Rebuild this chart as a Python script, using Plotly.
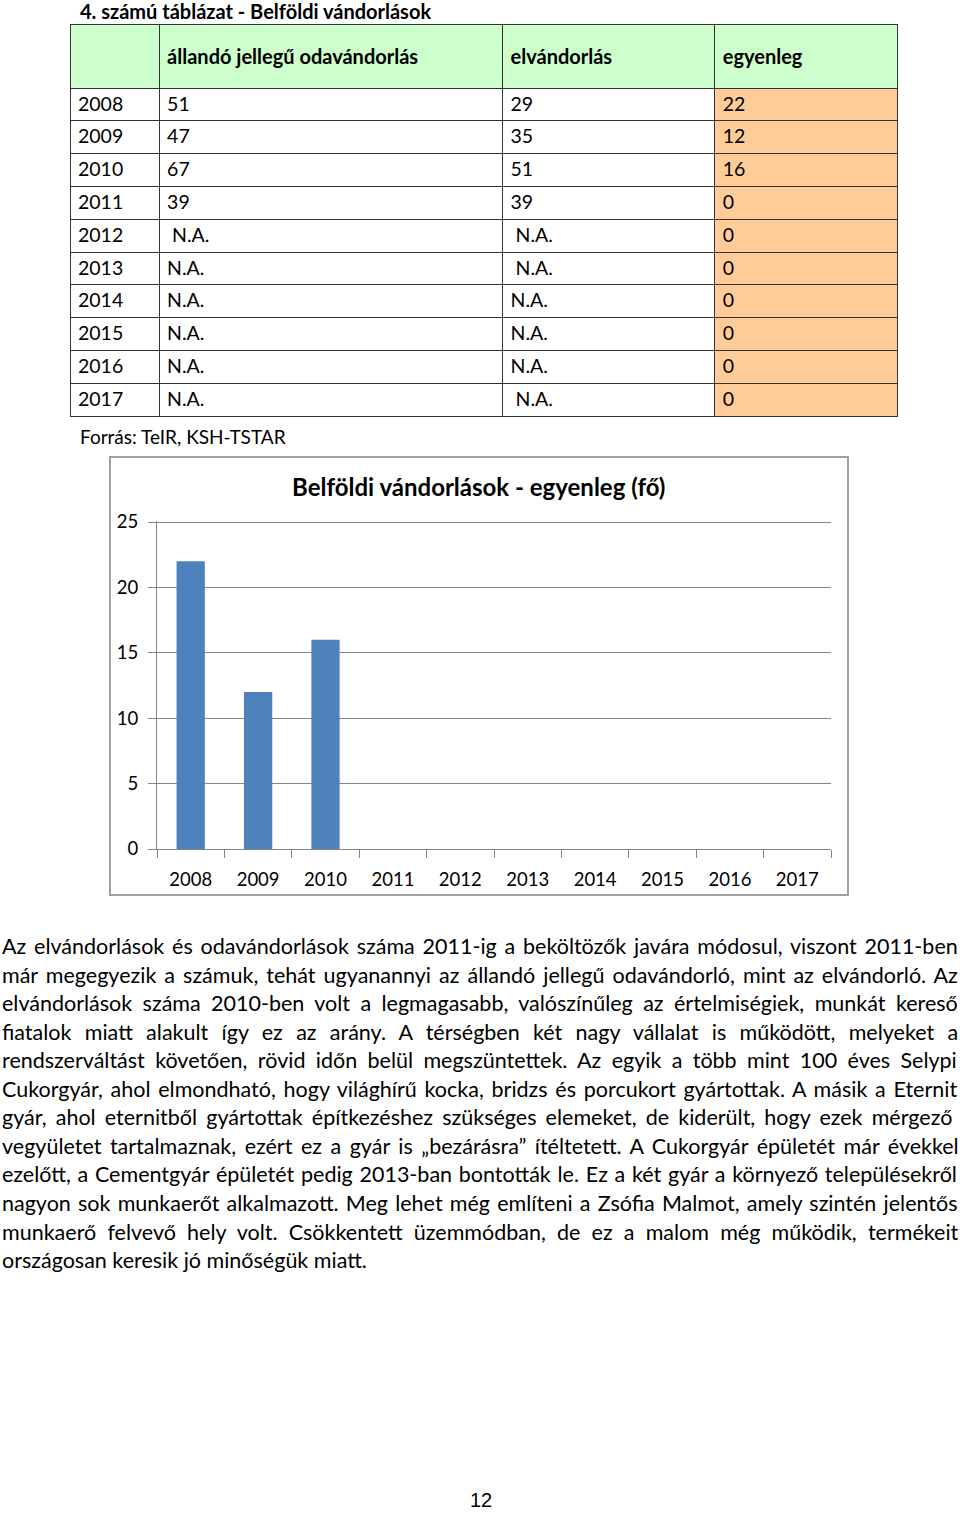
import plotly.graph_objects as go

W, H = 960, 1513

# ---------------- data ----------------
years = ["2008", "2009", "2010", "2011", "2012", "2013", "2014", "2015", "2016", "2017"]
odavandorlas = ["51", "47", "67", "39", " N.A.", "N.A.", "N.A.", "N.A.", "N.A.", "N.A."]
elvandorlas = ["29", "35", "51", "39", " N.A.", " N.A.", "N.A.", "N.A.", "N.A.", " N.A."]
egyenleg = [22, 12, 16, 0, 0, 0, 0, 0, 0, 0]
header_labels = ["", "állandó jellegű odavándorlás", "elvándorlás", "egyenleg"]
y_ticks = [0, 5, 10, 15, 20, 25]

table_title = "4. számú táblázat - Belföldi vándorlások"
source_text = "Forrás: TeIR, KSH-TSTAR"
chart_title = "Belföldi vándorlások - egyenleg (fő)"
paragraph_lines = [
    "Az elvándorlások és odavándorlások száma 2011-ig a beköltözők javára módosul, viszont 2011-ben",
    "már megegyezik a számuk, tehát ugyanannyi az állandó jellegű odavándorló, mint az elvándorló. Az",
    "elvándorlások száma 2010-ben volt a legmagasabb, valószínűleg az értelmiségiek, munkát kereső",
    "fiatalok miatt alakult így ez az arány. A térségben két nagy vállalat is működött, melyeket a",
    "rendszerváltást követően, rövid időn belül megszüntettek. Az egyik a több mint 100 éves Selypi",
    "Cukorgyár, ahol elmondható, hogy világhírű kocka, bridzs és porcukort gyártottak. A másik a Eternit",
    "gyár, ahol eternitből gyártottak építkezéshez szükséges elemeket, de kiderült, hogy ezek mérgező",
    "vegyületet tartalmaznak, ezért ez a gyár is „bezárásra” ítéltetett. A Cukorgyár épületét már évekkel",
    "ezelőtt, a Cementgyár épületét pedig 2013-ban bontották le. Ez a két gyár a környező településekről",
    "nagyon sok munkaerőt alkalmazott. Meg lehet még említeni a Zsófia Malmot, amely szintén jelentős",
    "munkaerő felvevő hely volt. Csökkentett üzemmódban, de ez a malom még működik, termékeit",
    "országosan keresik jó minőségük miatt.",
]
page_number = "12"

# ---------------- style / layout settings ----------------
FONT = "Lato"
PARA_SIZE = 21.5
# estimated natural (unjustified) width of each paragraph line at PARA_SIZE, for justification
natural_width = [932, 924, 908, 840, 894, 928, 917, 918, 940, 935, 889, None]
JUSTIFY_TO = 957


def px_x(x):
    return x / W


def px_y(y):
    return 1 - y / H


nb = lambda s: s.replace(" ", "\u00a0")

fig = go.Figure()

# ---------------- table ----------------
HEAD_BASE = 14  # small base font -> small blank first line used to centre header text vertically
fig.add_trace(go.Table(
    domain=dict(x=[px_x(70), px_x(897)], y=[px_y(440), px_y(24)]),
    columnwidth=[89, 343, 212, 182],
    header=dict(
        values=["\u00a0<br>" + ("<span style='font-size:20px'><b>%s</b></span>" % h if h else "")
                for h in header_labels],
        fill_color="#CCFFCC",
        line=dict(color="#333333", width=1),
        align="left",
        height=64,
        font=dict(family=FONT, size=HEAD_BASE, color="black"),
    ),
    cells=dict(
        values=[years, [nb(v) for v in odavandorlas], [nb(v) for v in elvandorlas],
                [str(v) for v in egyenleg]],
        fill_color=["white", "white", "white", "#FFCC99"],
        line=dict(color="#333333", width=1),
        align="left",
        height=32.8,
        font=dict(family=FONT, size=19.5, color="black"),
    ),
))

# ---------------- bar chart ----------------
fig.add_trace(go.Bar(
    x=years, y=egyenleg, width=0.42,
    marker=dict(color="#4F81BD", line=dict(width=0)),
    xaxis="x", yaxis="y", showlegend=False,
))

ymax = 25.1
fig.update_layout(
    template="none",
    width=W, height=H, autosize=False,
    margin=dict(l=0, r=0, t=0, b=0, pad=0, autoexpand=False),
    paper_bgcolor="white", plot_bgcolor="white",
    font=dict(family=FONT, size=18, color="black"),
    showlegend=False,
    xaxis=dict(
        domain=[px_x(157), px_x(831)],
        anchor="y",
        type="category",
        categoryorder="array", categoryarray=years,
        range=[-0.5, 9.5],
        tickson="boundaries",
        ticks="outside", ticklen=8, tickcolor="#868686", tickwidth=1,
        showline=True, linecolor="#868686", linewidth=1,
        showgrid=False, zeroline=False,
        tickfont=dict(family=FONT, size=18.5, color="black"),
        ticklabelstandoff=14,
        automargin=False,
        fixedrange=True,
    ),
    yaxis=dict(
        domain=[px_y(849), px_y(849 - 327 / 25 * ymax)],
        anchor="x",
        range=[0, ymax],
        tickvals=y_ticks,
        ticks="outside", ticklen=8, tickcolor="#868686", tickwidth=1,
        showline=True, linecolor="#868686", linewidth=1,
        showgrid=True, gridcolor="#868686", gridwidth=1,
        zeroline=False,
        tickfont=dict(family=FONT, size=18.5, color="black"),
        ticklabelstandoff=6,
        automargin=False,
        fixedrange=True,
    ),
)

# chart border
fig.add_shape(type="rect", xref="paper", yref="paper",
              x0=px_x(110), x1=px_x(848), y0=px_y(895), y1=px_y(457),
              line=dict(color="#A0A0A0", width=2), fillcolor="rgba(0,0,0,0)", layer="below")

ann = []
ann.append(dict(text="<b>%s</b>" % table_title, x=px_x(78), y=px_y(11),
                xanchor="left", yanchor="middle", font=dict(family=FONT, size=20)))
ann.append(dict(text=source_text, x=px_x(78), y=px_y(436),
                xanchor="left", yanchor="middle", font=dict(family=FONT, size=19)))
ann.append(dict(text="<b>%s</b>" % chart_title, x=px_x(478), y=px_y(486),
                xanchor="center", yanchor="middle", font=dict(family=FONT, size=24)))
for i, line in enumerate(paragraph_lines):
    nat = natural_width[i]
    txt = line
    if nat is not None and line.count(" ") > 0:
        ws = (JUSTIFY_TO - nat) / line.count(" ")
        txt = "<span style='word-spacing:%.2fpx'>%s</span>" % (ws, line)
    ann.append(dict(text=txt, x=0, y=px_y(946 + i * 28.55),
                    xanchor="left", yanchor="middle", font=dict(family=FONT, size=PARA_SIZE)))
ann.append(dict(text=page_number, x=px_x(481), y=px_y(1500),
                xanchor="center", yanchor="middle",
                font=dict(family="Liberation Sans", size=20)))
for a in ann:
    a.update(xref="paper", yref="paper", showarrow=False, align="left")
fig.update_layout(annotations=ann)

fig.write_html(
    "out.html",
    config={"displayModeBar": False, "staticPlot": True},
    post_script="document.body.style.margin='0';document.body.style.overflow='hidden';",
)
